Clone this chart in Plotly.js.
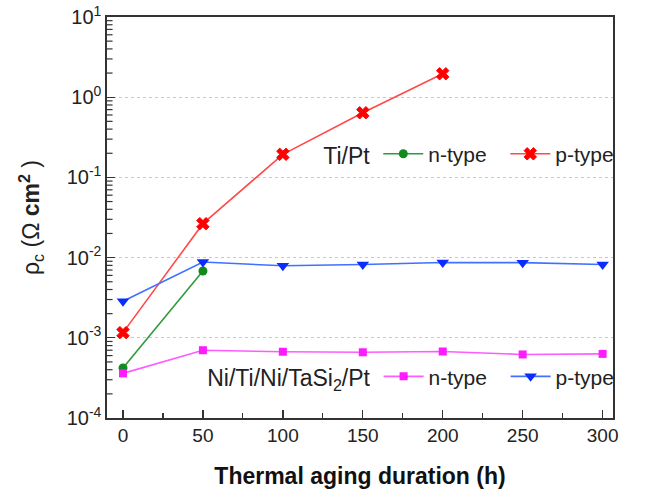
<!DOCTYPE html>
<html>
<head>
<meta charset="utf-8">
<script src="https://cdn.plot.ly/plotly-3.0.1.min.js"></script>
<style>html,body{margin:0;padding:0;background:#fff;}#chart{width:664px;height:497px;}</style>
</head>
<body>
<div id="chart"></div>
<script>
// Thermal aging duration (h)
const hoursTiPtN = [0, 50];
const tiPtN = [4.2e-4, 6.8e-3];
const hoursTiPtP = [0, 50, 100, 150, 200];
const tiPtP = [1.16e-3, 0.0265, 0.194, 0.64, 1.96];
const hoursNi = [0, 50, 100, 150, 200, 250, 300];
const niN = [3.6e-4, 7.0e-4, 6.7e-4, 6.6e-4, 6.75e-4, 6.2e-4, 6.3e-4];
const niP = [2.85e-3, 8.8e-3, 7.9e-3, 8.2e-3, 8.7e-3, 8.65e-3, 8.2e-3];
const legendTitle1 = 'Ti/Pt';
const legendTitle2 = 'Ni/Ti/Ni/TaSi<sub>2</sub>/Pt';
const xTicks = [0, 50, 100, 150, 200, 250, 300];
const yTickVals = [1e-4, 1e-3, 1e-2, 1e-1, 1, 10];
const yTickText = ['10<sup>-4</sup>', '10<sup>-3</sup>', '10<sup>-2</sup>', '10<sup>-1</sup>', '10<sup>0</sup>', '10<sup>1</sup>'];

// minor tick positions 2..9 x 10^k for each decade shown
const yMinor = [];
for (let k = -4; k < 1; k++) for (let m = 2; m <= 9; m++) yMinor.push(m * Math.pow(10, k));

const font = 'Liberation Sans, Arial, sans-serif';
const traces = [
  {x: hoursTiPtN, y: tiPtN, name: 'n-type', mode: 'lines+markers', legend: 'legend',
   line: {color: '#2e9a3a', width: 1.6}, marker: {symbol: 'circle', size: 9, color: '#138a1e'}},
  {x: hoursTiPtP, y: tiPtP, name: 'p-type', mode: 'lines+markers', legend: 'legend',
   line: {color: '#ff4a4a', width: 1.6}, marker: {symbol: 'x', size: 11, color: '#ff0000', line: {width: 1, color: '#ff0000'}}},
  {x: hoursNi, y: niN, name: 'n-type', mode: 'lines+markers', legend: 'legend2',
   line: {color: '#ff5cff', width: 1.6}, marker: {symbol: 'square', size: 8, color: '#ff1aff'}},
  {x: hoursNi, y: niP, name: 'p-type', mode: 'lines+markers', legend: 'legend2',
   line: {color: '#4070ff', width: 1.6}, marker: {symbol: 'triangle-down', size: 11, color: '#0a2cff'}}
];

// minor y ticks drawn as short inside tick lines at the axis
const minorShapes = yMinor.map(v => ({
  type: 'line', xref: 'paper', yref: 'y', x0: 0, x1: 0.011, y0: v, y1: v,
  line: {color: '#333', width: 1.2}, layer: 'above'
}));

const layout = {
  width: 664, height: 497,
  margin: {l: 107, r: 51, t: 17, b: 79},
  paper_bgcolor: '#fff', plot_bgcolor: '#fff',
  font: {family: font, size: 19, color: '#222'},
  showlegend: true,
  shapes: minorShapes,
  xaxis: {
    range: [-10, 306.5], tickvals: xTicks, ticks: 'inside', ticklen: 8, tickwidth: 1.3, tickcolor: '#333',
    showline: true, linecolor: '#333', linewidth: 1.6, mirror: true, showgrid: false, zeroline: false,
    minor: {dtick: 25, ticks: 'inside', ticklen: 5, tickwidth: 1.2, tickcolor: '#333', showgrid: false},
    tickfont: {size: 19, color: '#222'},
    title: {text: '<b>Thermal aging duration (h)</b>', font: {size: 23, color: '#111'}, standoff: 22}
  },
  yaxis: {
    type: 'log', range: [-4, 1], tickmode: 'array', tickvals: yTickVals, ticktext: yTickText,
    ticks: 'inside', ticklen: 8, tickwidth: 1.3, tickcolor: '#333',
    showline: true, linecolor: '#333', linewidth: 1.6, mirror: true,
    showgrid: true, gridcolor: '#c8c8c8', griddash: '3px,3px', gridwidth: 1, zeroline: false,
    tickfont: {size: 20, color: '#222'},
    title: {text: 'ρ<sub>c</sub> (Ω <b>cm<sup>2</sup></b> )', font: {size: 23, color: '#222'}, standoff: 20}
  },
  legend: {
    orientation: 'h', x: 1.04, xanchor: 'right', y: 0.658, yanchor: 'middle',
    title: {text: legendTitle1, side: 'left', font: {size: 23}},
    bgcolor: 'rgba(0,0,0,0)', font: {size: 21, color: '#222'}, itemwidth: 40, entrywidth: 72
  },
  legend2: {
    orientation: 'h', x: 1.04, xanchor: 'right', y: 0.103, yanchor: 'middle',
    title: {text: legendTitle2, side: 'left', font: {size: 23}},
    bgcolor: 'rgba(0,0,0,0)', font: {size: 21, color: '#222'}, itemwidth: 40, entrywidth: 72
  }
};

Plotly.newPlot('chart', traces, layout, {staticPlot: true, displayModeBar: false});
</script>
</body>
</html>
